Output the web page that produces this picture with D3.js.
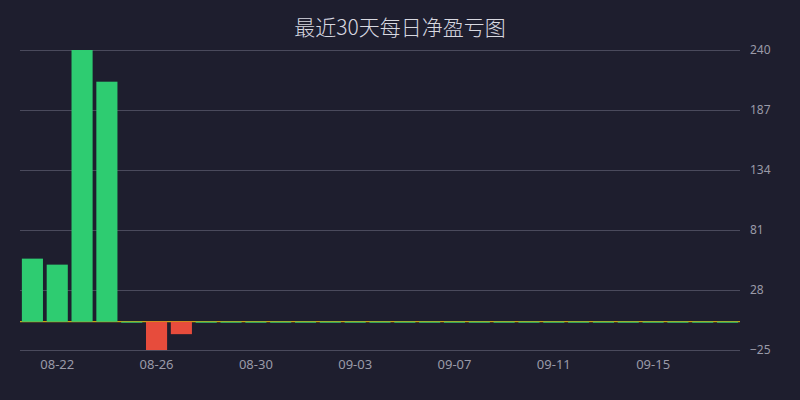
<!DOCTYPE html>
<html>
<head>
<meta charset="utf-8">
<script src="https://cdn.jsdelivr.net/npm/d3@7"></script>
<style>
  html, body { margin: 0; padding: 0; background: #1e1e2e; }
  #chart { width: 800px; height: 400px; }
</style>
</head>
<body>
<div id="chart"></div>
<script>
const title = "最近30天每日净盈亏图";

const days = [
  "08-21", "08-22", "08-23", "08-24", "08-25", "08-26", "08-27", "08-28",
  "08-29", "08-30", "08-31", "09-01", "09-02", "09-03", "09-04", "09-05",
  "09-06", "09-07", "09-08", "09-09", "09-10", "09-11", "09-12", "09-13",
  "09-14", "09-15", "09-16", "09-17", "09-18"
];
const profit = [
  55.7, 50.4, 240, 212, 0, -25, -11, 0,
  0, 0, 0, 0, 0, 0, 0, 0,
  0, 0, 0, 0, 0, 0, 0, 0,
  0, 0, 0, 0, 0
];
const yTicks = [-25, 28, 81, 134, 187, 240];
const xLabels = ["08-22", "08-26", "08-30", "09-03", "09-07", "09-11", "09-15"];

const dataset = days.map((d, i) => ({ day: d, value: profit[i] }));

let dimensions = {
  width: 800,
  height: 400,
  margin: { top: 50, bottom: 50, left: 20, right: 60 }
};

const svg = d3.select("#chart")
  .append("svg")
  .attr("width", dimensions.width)
  .attr("height", dimensions.height);

svg.append("rect")
  .attr("width", dimensions.width)
  .attr("height", dimensions.height)
  .attr("fill", "#1e1e2e");

const x = d3.scaleBand()
  .domain(days)
  .range([dimensions.margin.left, dimensions.width - dimensions.margin.right])
  .paddingInner(0.15)
  .paddingOuter(0.075);

const y = d3.scaleLinear()
  .domain([-25, 240])
  .range([dimensions.height - dimensions.margin.bottom, dimensions.margin.top]);

// grid + right axis labels
const yAxis = svg.append("g")
  .attr("transform", `translate(${dimensions.width - dimensions.margin.right}, 0)`)
  .call(d3.axisRight(y)
    .tickValues(yTicks)
    .tickSize(-(dimensions.width - dimensions.margin.left - dimensions.margin.right))
    .tickPadding(10));
yAxis.select(".domain").remove();
yAxis.selectAll(".tick line").attr("stroke", "#4a4a5c");
yAxis.selectAll(".tick text")
  .attr("fill", "#9a9aa8")
  .style("font-family", "'Liberation Sans Narrow', 'Noto Sans', sans-serif")
  .style("font-size", "12px");

// zero line
svg.append("line")
  .attr("x1", dimensions.margin.left)
  .attr("x2", dimensions.width - dimensions.margin.right)
  .attr("y1", y(0))
  .attr("y2", y(0))
  .attr("stroke", "#f1c40f")
  .attr("stroke-width", 1);

// bars
svg.append("g")
  .selectAll("rect")
  .data(dataset)
  .join("rect")
  .attr("x", d => x(d.day))
  .attr("width", x.bandwidth())
  .attr("y", d => d.value >= 0 ? y(d.value) : y(0))
  .attr("height", d => Math.max(1, Math.abs(y(d.value) - y(0))))
  .attr("fill", d => d.value >= 0 ? "#2ecc71" : "#e74c3c");

// x axis labels
const xAxis = svg.append("g")
  .attr("transform", `translate(0, ${dimensions.height - dimensions.margin.bottom})`)
  .call(d3.axisBottom(x).tickValues(xLabels).tickSize(0).tickPadding(10));
xAxis.select(".domain").remove();
xAxis.selectAll(".tick text")
  .attr("fill", "#9a9aa8")
  .style("font-family", "'Liberation Sans Narrow', 'Noto Sans', sans-serif")
  .style("font-size", "13px");

// title
svg.append("text")
  .attr("x", dimensions.width / 2)
  .attr("y", 35)
  .attr("text-anchor", "middle")
  .attr("fill", "#d8d8e0")
  .style("font-family", "'Noto Sans CJK SC', sans-serif")
  .style("font-weight", 300)
  .style("font-size", "21px")
  .text(title);
</script>
</body>
</html>
